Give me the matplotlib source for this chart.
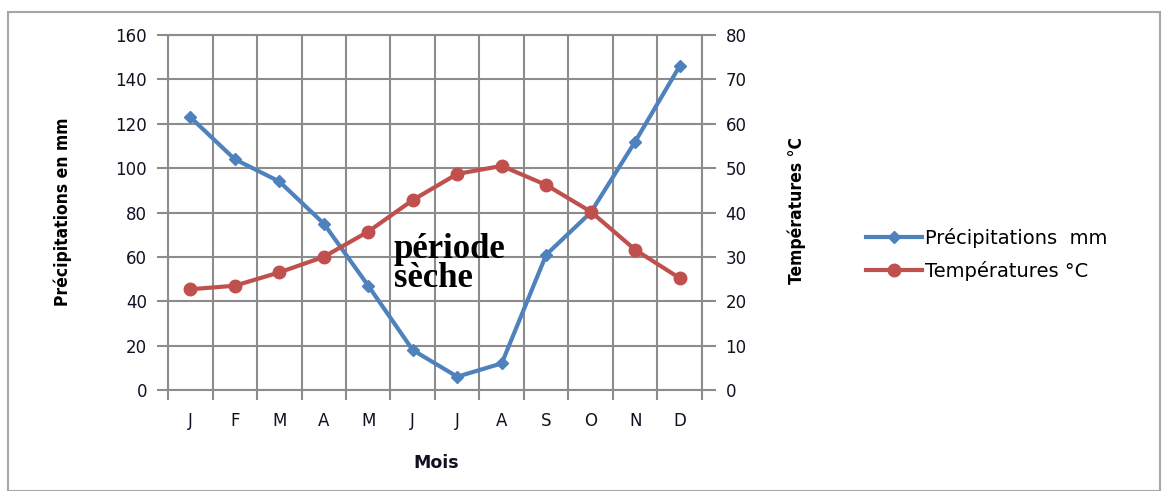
import matplotlib
matplotlib.use('Agg')
import matplotlib.pyplot as plt
from matplotlib.patches import Rectangle

MONTHS = ['J', 'F', 'M', 'A', 'M', 'J', 'J', 'A', 'S', 'O', 'N', 'D']
PRECIP = [123, 104, 94, 75, 47, 18, 6, 12, 61, 80, 112, 146]
TEMP = [22.7, 23.5, 26.5, 30, 35.7, 42.8, 48.7, 50.5, 46.2, 40.2, 31.6, 25.2]
LEFT_TICKS = list(range(0, 161, 20))
RIGHT_TICKS = list(range(0, 81, 10))

BLUE = '#4f81bd'
RED = '#c0504d'
GRID = '#8c8c8c'
TXT = '#111122'

fig = plt.figure(figsize=(11.62, 4.91), dpi=100)
fig.patches.append(Rectangle((0.007, 0.0), 0.991, 0.975, transform=fig.transFigure,
                             fill=False, edgecolor='#a6a6a6', linewidth=1.5))

ax = fig.add_axes([0.1446, 0.2057, 0.4595, 0.723])
x = list(range(len(MONTHS)))

ax.set_xlim(-0.5, 11.5)
ax.set_ylim(0, 160)
ax.set_xticks(x)
ax.set_xticklabels(MONTHS)
ax.set_xticks([i - 0.5 for i in range(13)], minor=True)
ax.set_yticks(LEFT_TICKS)
ax.tick_params(axis='x', which='major', length=0, pad=16, labelsize=12, labelcolor=TXT)
ax.tick_params(axis='x', which='minor', length=7, width=1.5, color=GRID)
ax.tick_params(axis='y', length=8, width=1.5, color=GRID, labelsize=12, labelcolor=TXT, pad=7)
ax.grid(True, which='minor', axis='x', color=GRID, linewidth=1.5)
ax.grid(True, which='major', axis='y', color=GRID, linewidth=1.5)
for s in ax.spines.values():
    s.set_color(GRID)
    s.set_linewidth(1.5)
ax.set_axisbelow(True)

l1, = ax.plot(x, PRECIP, color=BLUE, linewidth=3, marker='D', markersize=6,
              label='Précipitations  mm', zorder=3)

ax2 = ax.twinx()
ax2.set_ylim(0, 80)
ax2.set_yticks(RIGHT_TICKS)
ax2.tick_params(axis='y', length=10, width=1.5, color=GRID, labelsize=12, labelcolor=TXT, pad=7)
for s in ax2.spines.values():
    s.set_visible(False)
l2, = ax2.plot(x, TEMP, color=RED, linewidth=3, marker='o', markersize=9,
               label='Températures °C', zorder=3)

fig.text(0.054, 0.568, 'Précipitations en mm', rotation=90, ha='center', va='center',
         fontsize=12.5, fontweight='bold', fontstretch='condensed')
fig.text(0.686, 0.572, 'Températures °C', rotation=90, ha='center', va='center',
         fontsize=12.5, fontweight='bold', fontstretch='condensed')
fig.text(0.375, 0.058, 'Mois', ha='center', va='center', fontsize=12.5, fontweight='bold',
         color=TXT)
fig.text(0.339, 0.462, 'période\nsèche', ha='left', va='center', fontsize=25,
         fontweight='bold', family='Liberation Serif', linespacing=0.85)

fig.legend(handles=[l1, l2], loc='center left', bbox_to_anchor=(0.730, 0.482),
           frameon=False, fontsize=14, handlelength=2.9, handletextpad=0.15,
           labelspacing=0.7)

fig.savefig('out.png', dpi=100)
